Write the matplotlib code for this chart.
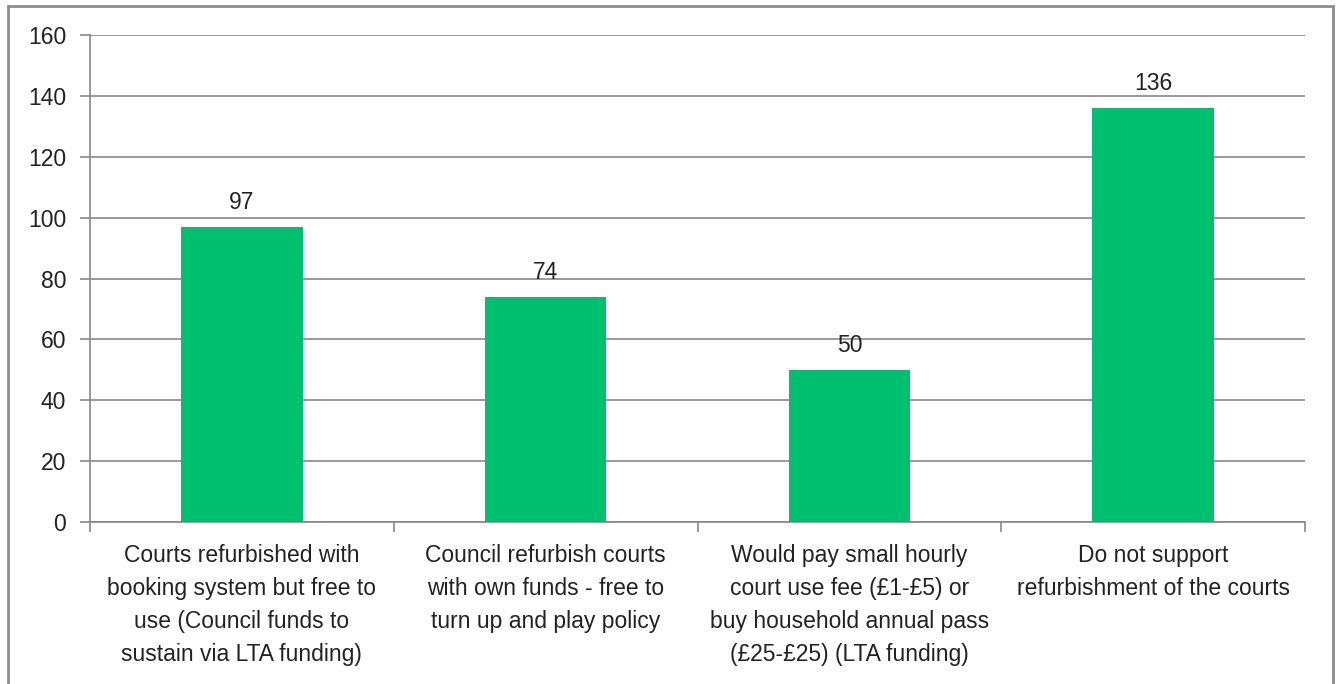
import numpy as np
import matplotlib.pyplot as plt
from matplotlib.patches import Rectangle

categories = [
    "Courts refurbished with\nbooking system but free to\nuse (Council funds to\nsustain via LTA funding)",
    "Council refurbish courts\nwith own funds - free to\nturn up and play policy",
    "Would pay small hourly\ncourt use fee (£1-£5) or\nbuy household annual pass\n(£25-£25) (LTA funding)",
    "Do not support\nrefurbishment of the courts",
]
values = [97, 74, 50, 136]
y_ticks = [0, 20, 40, 60, 80, 100, 120, 140, 160]

green = "#00BF6F"
grid_col = "#878787"
fs = 16.5

plt.rcParams["font.family"] = ["Liberation Sans", "DejaVu Sans"]

fig = plt.figure(figsize=(13.41, 6.84), dpi=100)
ax = fig.add_axes([0.0671, 0.2368, 0.9061, 0.712])

x = np.arange(len(values))
bars = ax.bar(x, values, width=0.4, color=green, zorder=3)
for b, v in zip(bars, values):
    ax.annotate(str(v), (b.get_x() + b.get_width() / 2, v), xytext=(0, 13),
                textcoords="offset points", ha="center", va="baseline",
                fontsize=fs, color="#222222")

ax.set_xlim(-0.5, len(values) - 0.5)
ax.set_ylim(0, 160)
ax.set_yticks(y_ticks)
ax.yaxis.grid(True, color=grid_col, linewidth=1.2, zorder=0)
ax.tick_params(axis="y", length=7, width=1.2, color=grid_col, labelsize=fs,
               labelcolor="#222222", pad=10)

ax.set_xticks(x)
ax.set_xticklabels(categories, fontsize=fs, color="#222222", linespacing=1.55)
ax.tick_params(axis="x", which="major", length=0, pad=16)
ax.set_xticks(np.arange(-0.5, len(values), 1.0), minor=True)
ax.tick_params(axis="x", which="minor", length=7, width=1.2, color=grid_col)

for side in ["top", "right"]:
    ax.spines[side].set_visible(False)
for side in ["left", "bottom"]:
    ax.spines[side].set_color(grid_col)
    ax.spines[side].set_linewidth(1.2)

# outer chart border
fig.patches.append(Rectangle((8 / 1341, -0.1), 1325 / 1341, 1 - 6 / 684 + 0.1,
                             transform=fig.transFigure, fill=False,
                             edgecolor="#8c8c8c", linewidth=2))

fig.savefig("out.png", dpi=100)
